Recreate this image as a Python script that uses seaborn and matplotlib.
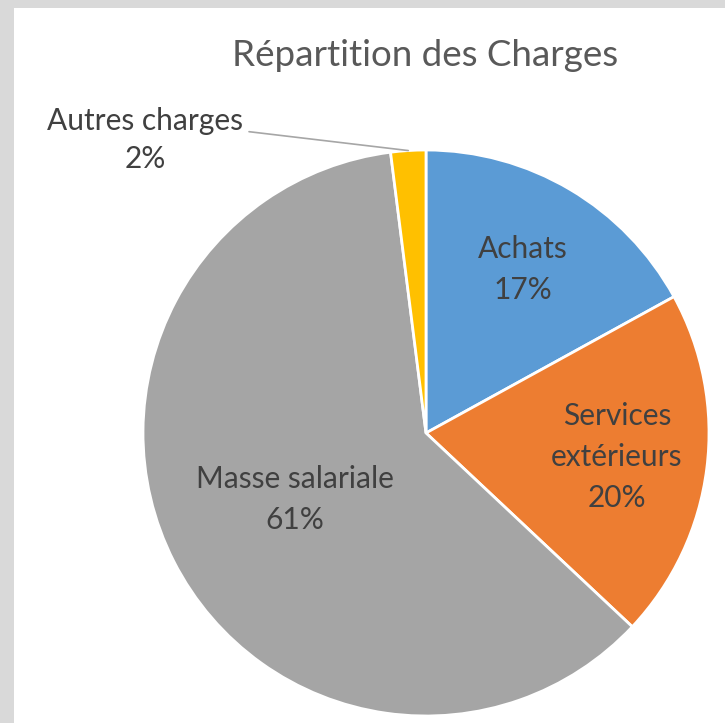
import numpy as np
import matplotlib
matplotlib.use("Agg")
import matplotlib.pyplot as plt
import seaborn as sns
from matplotlib.patches import Rectangle

# ── Data ──────────────────────────────────────────────────────────────────────
categories = ["Achats", "Services\nextérieurs", "Masse salariale", "Autres charges"]
shares = [17, 20, 61, 2]
colors = ["#5B9BD5", "#ED7D31", "#A5A5A5", "#FFC000"]
title = "Répartition des Charges"

# ── Style ─────────────────────────────────────────────────────────────────────
sns.set_theme(style="white")
plt.rcParams["font.family"] = ["Lato", "DejaVu Sans"]
TEXT_C = "#404040"
TITLE_C = "#595959"
FRAME_C = "#D9D9D9"

W, H = 725, 723
fig = plt.figure(figsize=(W / 100, H / 100), dpi=100)
fig.patch.set_facecolor(FRAME_C)
fig.patches.append(Rectangle((14 / W, 0), 1, 1 - 8 / H, transform=fig.transFigure,
                             facecolor="white", edgecolor="none", zorder=-5))

# pie box: centre (426, 433) px, radius 283 px
ax = fig.add_axes([143 / W, (H - 716) / H, 566 / W, 566 / H])
ax.set_facecolor("none")
ax.set_zorder(2)

wedges, _ = ax.pie(shares, colors=colors, startangle=90, counterclock=False,
                   radius=1, wedgeprops=dict(edgecolor="white", linewidth=2))
ax.set_xlim(-1, 1)
ax.set_ylim(-1, 1)
ax.axis("off")

label_dist = [0.67, 0.68, 0.52, None]
for w, cat, val, d in zip(wedges, categories, shares, label_dist):
    mid = np.deg2rad((w.theta1 + w.theta2) / 2)
    txt = f"{cat}\n{val}%"
    if d is not None:
        ax.text(d * np.cos(mid), d * np.sin(mid), txt, ha="center", va="center",
                fontsize=21.5, color=TEXT_C, linespacing=1.55)
    else:
        ax.annotate(txt, xy=(np.cos(mid), np.sin(mid)), xytext=(-0.993, 1.035),
                    ha="center", va="center", fontsize=21.5, color=TEXT_C,
                    linespacing=1.4, annotation_clip=False,
                    arrowprops=dict(arrowstyle="-", color="#A6A6A6", lw=1.2,
                                    relpos=(1.0, 0.64), shrinkA=2, shrinkB=0))

fig.text(425 / W, 1 - 55 / H, title, ha="center", va="center",
         fontsize=26.5, color=TITLE_C)

fig.savefig("out.png", dpi=100, facecolor=FRAME_C)
